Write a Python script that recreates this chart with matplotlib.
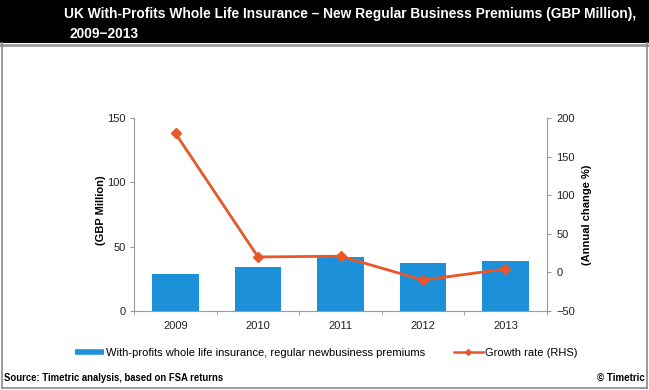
import matplotlib
matplotlib.use("Agg")
import matplotlib.pyplot as plt
from matplotlib.patches import Rectangle
from matplotlib.lines import Line2D

years = ["2009", "2010", "2011", "2012", "2013"]
premiums = [28.6, 34.4, 41.6, 37.6, 39.2]
growth = [180.0, 20.0, 21.0, -10.0, 4.5]

title_line1 = "UK With-Profits Whole Life Insurance \u2013 New Regular Business Premiums (GBP Million),"
title_line2 = "2009\u22122013"
bar_label = "With-profits whole life insurance, regular newbusiness premiums"
line_label = "Growth rate (RHS)"

plt.rcParams['font.family'] = ['Liberation Sans', 'DejaVu Sans']

W, H = 649, 390
fig = plt.figure(figsize=(W / 100, H / 100), dpi=100)

def fx(px):
    return px / W

def fy(py):
    return 1 - py / H

# title band
fig.patches.append(Rectangle((0, fy(43)), 1, 43 / H, transform=fig.transFigure,
                             facecolor="black", edgecolor="none", zorder=0))
fig.lines.append(Line2D([0, 1], [fy(45), fy(45)], transform=fig.transFigure,
                        color="#9a9a9a", lw=2))
# outer border
fig.lines.append(Line2D([fx(1.5), fx(1.5)], [fy(43), fy(388)], transform=fig.transFigure, color="#8a8a8a", lw=1.2))
fig.lines.append(Line2D([fx(647), fx(647)], [fy(43), fy(388)], transform=fig.transFigure, color="#8a8a8a", lw=1.2))
fig.lines.append(Line2D([fx(1.5), fx(647)], [fy(388), fy(388)], transform=fig.transFigure, color="#8a8a8a", lw=1.2))

t1 = fig.text(fx(64), fy(14), title_line1, color="white", fontsize=10, fontweight="bold",
              va="center", ha="left")
t2 = fig.text(fx(70), fy(34), title_line2, color="white", fontsize=10, fontweight="bold",
              va="center", ha="left")

ax = fig.add_axes([fx(134.3), fy(311), fx(546.7) - fx(134.3), fy(118) - fy(311)])
x = list(range(len(years)))
ax.bar(x, premiums, width=0.56, color="#1C90D8", zorder=2)
ax.set_xlim(-0.5, 4.5)
ax.set_ylim(0, 150)
ax.set_yticks([0, 50, 100, 150])
ax.set_xticks(x)
ax.set_xticklabels(years)
ax.set_xticks([i + 0.5 for i in range(-1, 5)], minor=True)
ax.tick_params(axis="x", which="major", length=0, pad=7)
ax.tick_params(axis="x", which="minor", length=3, color="#999999", direction="out")
ax.tick_params(axis="y", length=3, color="#999999", direction="out", pad=3)
ax.tick_params(labelsize=8, labelcolor="#222222")
for s in ["top", "right"]:
    ax.spines[s].set_visible(False)
for s in ["left", "bottom"]:
    ax.spines[s].set_color("#9a9a9a")
ax.set_ylabel("(GBP Million)", fontsize=8, fontweight="bold")
ax.yaxis.set_label_coords((106 - 134.3) / 412.4, 0.52)

ax2 = ax.twinx()
ax2.plot(x, growth, color="#E8572A", lw=2, marker="D", markersize=5, zorder=3)
ax2.set_ylim(-50, 200)
ax2.set_yticks([-50, 0, 50, 100, 150, 200])
ax2.tick_params(axis="y", length=3, color="#999999", direction="out", labelsize=8,
                labelcolor="#222222", pad=4)
for s in ["top", "left", "bottom"]:
    ax2.spines[s].set_visible(False)
ax2.spines["right"].set_color("#9a9a9a")
ax2.set_ylabel("(Annual change %)", fontsize=8, fontweight="bold", rotation=90)
ax2.yaxis.set_label_coords((581.5 - 134.3) / 412.4, 0.5)

h1 = Line2D([], [], color="#1C90D8", lw=4, solid_capstyle="butt")
h2 = Line2D([], [], color="#E8572A", lw=1.8, marker="D", markersize=3)
fig.legend([h1, h2], [bar_label, line_label], loc="center", bbox_to_anchor=(fx(326), fy(353)),
           ncol=2, frameon=False, fontsize=8, handlelength=2.6, handletextpad=0.2,
           columnspacing=2.6, borderpad=0, borderaxespad=0)

s1 = fig.text(fx(4), fy(378), "Source: Timetric analysis, based on FSA returns", fontsize=7,
              fontweight="bold", va="center", ha="left")
fig.text(fx(645), fy(378), "\u00a9 Timetric", fontsize=7, fontweight="bold", va="center", ha="right")

# fit title width to the reference span (64 -> 637 px)
fig.canvas.draw()
r = fig.canvas.get_renderer()
w = t1.get_window_extent(r).width
fs = 10 * 573 / w
t1.set_fontsize(fs)
t2.set_fontsize(fs)
w2 = s1.get_window_extent(r).width
s1.set_fontsize(7 * 220 / w2)

fig.savefig("out.png", dpi=100)
